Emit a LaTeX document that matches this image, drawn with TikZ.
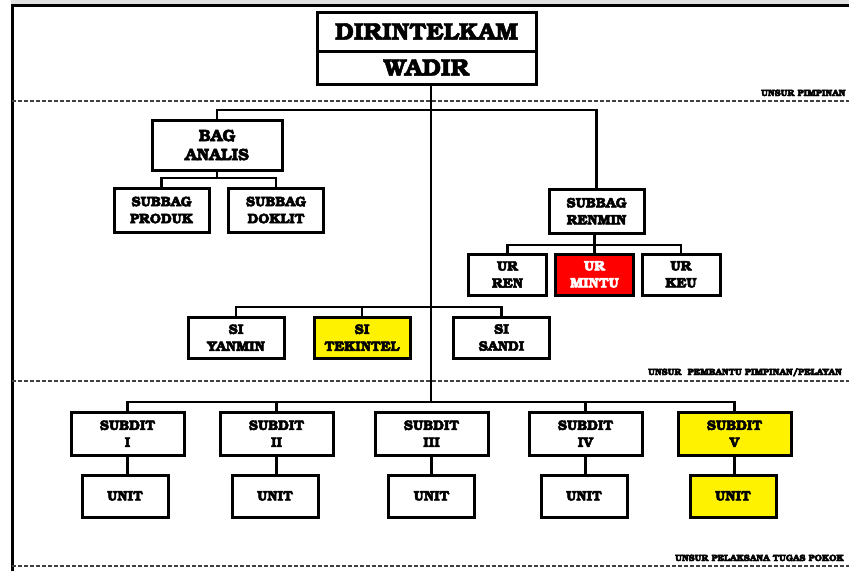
\documentclass[tikz,border=0pt]{standalone}
\usepackage[T1]{fontenc}
\usepackage{bookman}
\newcommand{\heavyon}{\special{pdf:literal direct 2 Tr 0.45 w}}
\newcommand{\heavyoff}{\special{pdf:literal direct 0 Tr}}
\begin{document}
\begin{tikzpicture}[x=1pt,y=-1pt,
  box/.style={draw=black,line width=3pt,fill=white,align=center,inner sep=0pt,
    font=\fontsize{13.8}{17}\selectfont\bfseries,
    execute at begin node=\heavyon, execute at end node=\heavyoff},
  topbox/.style={box,minimum width=219pt,font=\fontsize{24}{28}\selectfont\bfseries},
  bigbox/.style={box,minimum width=130pt,minimum height=50pt,font=\fontsize{16.5}{19}\selectfont\bfseries},
  midbox/.style={box,minimum width=95pt,minimum height=44pt},
  urbox/.style={box,minimum width=78pt,minimum height=41pt},
  sibox/.style={box,minimum width=96pt,minimum height=41pt},
  subbox/.style={box,minimum width=113pt,minimum height=43pt},
  unitbox/.style={box,minimum width=86pt,minimum height=42pt},
  conn/.style={draw=black,line width=2.5pt},
  sep/.style={draw=black!75,line width=1.4pt,dash pattern=on 4pt off 2pt},
  lbl/.style={anchor=base west,inner sep=0pt,font=\fontsize{9.1}{11}\selectfont\bfseries,
    execute at begin node=\heavyon, execute at end node=\heavyoff},
  yel/.style={fill=yellow},
  redb/.style={fill=red,text=white}]
\useasboundingbox (0,0) rectangle (849,571);
\clip (0,0) rectangle (849,571);
% frame
\fill[black!12] (11,0) rectangle (849,4);
\draw[line width=3pt] (12.5,571) -- (12.5,5.5) -- (849,5.5);
% separators
\draw[sep] (12,101) -- (849,101);
\draw[sep] (12,381) -- (849,381);
\draw[sep] (12,566) -- (849,566);
\node[lbl] (l1) at (761,96) {UNSUR PIMPINAN};
\node[lbl] (l2) at (648,375) {UNSUR\ \ PEMBANTU PIMPINAN/PELAYAN};
\node[lbl] (l3) at (675,561) {UNSUR PELAKSANA TUGAS POKOK};
% junction coordinates
\coordinate (t0) at (431,84);
\coordinate (tb) at (431,110);
\coordinate (ts) at (431,307);
\coordinate (td) at (431,402);
% connectors
\coordinate (bagtop) at (217,120);
\coordinate (rentop) at (596.5,189);
\draw[conn] (t0) -- (td);
\draw[conn] (bagtop) |- (tb) -| (rentop);
\coordinate (bb) at (217,178);
\coordinate (rb) at (594.5,245);
\draw[conn] (217,170) -- (bb);
\draw[conn] (161.5,188) |- (bb) -| (276,188);
\draw[conn] (594.5,233) -- (rb);
\draw[conn] (507.5,254) |- (rb) -| (681,254);
\draw[conn] (594.5,254) -- (rb);
\draw[conn] (236,317) |- (ts) -| (501.5,317);
\draw[conn] (362,317) -- (362,307);
\draw[conn] (127.5,412) |- (td) -| (734.5,412);
\draw[conn] (276.5,412) -- (276.5,402);
\draw[conn] (585.5,412) -- (585.5,402);
\draw[conn] (127.5,455) -- (127.5,475);
\draw[conn] (276.5,455) -- (276.5,475);
\draw[conn] (431.5,455) -- (431.5,475);
\draw[conn] (585.5,455) -- (585.5,475);
\draw[conn] (734.5,455) -- (734.5,475);
% nodes
\node[topbox,minimum height=39pt] (dir) at (426.5,31.5) {DIRINTELKAM};
\node[topbox,minimum height=33pt] (wadir) at (426.5,67.5) {WADIR};
\node[bigbox] (bag) at (217,145) {BAG\\ANALIS};
\node[midbox] (produk) at (161.5,210) {SUBBAG\\PRODUK};
\node[midbox] (doklit) at (276,210) {SUBBAG\\DOKLIT};
\node[midbox] (renmin) at (596.5,211) {SUBBAG\\RENMIN};
\node[urbox] (ren) at (507.5,274.5) {UR\\REN};
\node[urbox,redb] (mintu) at (594.5,274.5) {UR\\MINTU};
\node[urbox] (keu) at (681,274.5) {UR\\KEU};
\node[sibox] (yanmin) at (236,337.5) {SI\\YANMIN};
\node[sibox,yel] (tekintel) at (362,337.5) {SI\\TEKINTEL};
\node[sibox] (sandi) at (501.5,337.5) {SI\\SANDI};
\node[subbox] (s1) at (127.5,433.5) {SUBDIT\\I};
\node[subbox] (s2) at (276.5,433.5) {SUBDIT\\II};
\node[subbox] (s3) at (431.5,433.5) {SUBDIT\\III};
\node[subbox] (s4) at (585.5,433.5) {SUBDIT\\IV};
\node[subbox,yel] (s5) at (734.5,433.5) {SUBDIT\\V};
\node[unitbox] (u1) at (125,496) {UNIT};
\node[unitbox] (u2) at (275,496) {UNIT};
\node[unitbox] (u3) at (431.5,496) {UNIT};
\node[unitbox] (u4) at (584,496) {UNIT};
\node[unitbox,yel] (u5) at (733,496) {UNIT};
\end{tikzpicture}
\end{document}
